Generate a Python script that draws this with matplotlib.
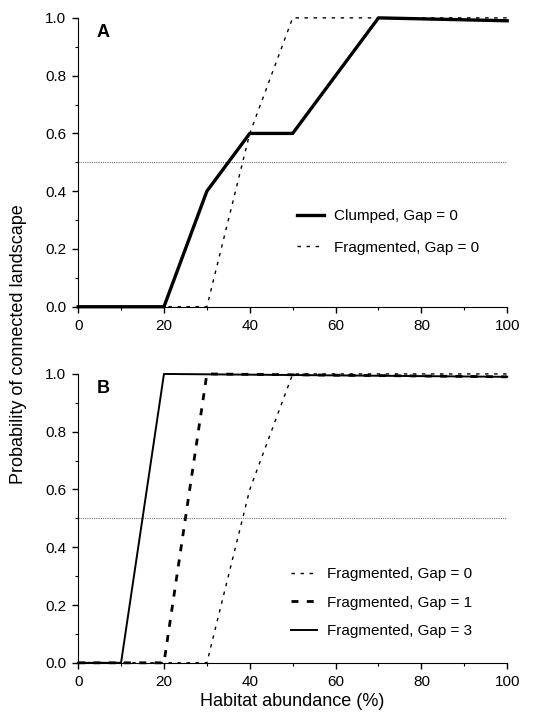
import matplotlib
matplotlib.use("Agg")
import matplotlib.pyplot as plt
from matplotlib.ticker import MultipleLocator

plt.rcParams["font.family"] = ["Liberation Sans", "DejaVu Sans"]

# Panel A
clumped_x = [0, 20, 30, 40, 50, 70, 100]
clumped_y = [0, 0, 0.4, 0.6, 0.6, 1.0, 0.99]
frag0_x = [0, 30, 40, 50, 100]
frag0_y = [0, 0, 0.6, 1.0, 1.0]

# Panel B
frag1_x = [0, 20, 30, 100]
frag1_y = [0, 0, 1.0, 0.99]
frag3_x = [0, 10, 20, 100]
frag3_y = [0, 0, 1.0, 0.99]

threshold = 0.5

fig = plt.figure(figsize=(5.39, 7.15), dpi=100)
axA = fig.add_axes([0.145, 0.571, 0.796, 0.404])
axB = fig.add_axes([0.145, 0.073, 0.796, 0.404])


def style_axes(ax):
    ax.set_xlim(0, 100)
    ax.set_ylim(0, 1.0)
    ax.spines["top"].set_visible(False)
    ax.spines["right"].set_visible(False)
    ax.xaxis.set_major_locator(MultipleLocator(20))
    ax.xaxis.set_minor_locator(MultipleLocator(10))
    ax.yaxis.set_major_locator(MultipleLocator(0.2))
    ax.yaxis.set_minor_locator(MultipleLocator(0.1))
    ax.set_yticklabels([f"{v:.1f}" for v in ax.get_yticks()])
    ax.tick_params(which="major", direction="out", length=4.5, width=1,
                   labelsize=11, pad=4)
    ax.tick_params(which="minor", direction="out", length=2.5, width=0.8)
    ax.axhline(threshold, color="0.45", lw=0.8, ls=(0, (1, 1)))


# Panel A
style_axes(axA)
axA.plot(clumped_x, clumped_y, color="black", lw=2.4, clip_on=False,
         label="Clumped, Gap = 0")
axA.plot(frag0_x, frag0_y, color="black", lw=1.0, ls=(0, (2.5, 4)), clip_on=False,
         label="Fragmented, Gap = 0")
axA.text(0.044, 0.948, "A", transform=axA.transAxes, fontsize=13,
         fontweight="bold", va="center", ha="left")
axA.legend(loc="upper left", bbox_to_anchor=(0.478, 0.385), frameon=False,
           fontsize=11, handlelength=1.75, labelspacing=1.15, handletextpad=0.7)

# Panel B
style_axes(axB)
axB.plot(frag0_x, frag0_y, color="black", lw=1.0, ls=(0, (2.5, 4)), clip_on=False,
         label="Fragmented, Gap = 0")
axB.plot(frag1_x, frag1_y, color="black", lw=2.0, ls=(0, (2.5, 3)), clip_on=False,
         label="Fragmented, Gap = 1")
axB.plot(frag3_x, frag3_y, color="black", lw=1.4, clip_on=False,
         label="Fragmented, Gap = 3")
axB.text(0.044, 0.948, "B", transform=axB.transAxes, fontsize=13,
         fontweight="bold", va="center", ha="left")
axB.legend(loc="upper left", bbox_to_anchor=(0.465, 0.379), frameon=False,
           fontsize=11, handlelength=1.65, labelspacing=0.96, handletextpad=0.7)
axB.set_xlabel("Habitat abundance (%)", fontsize=13, labelpad=3)

fig.text(0.035, 0.519, "Probability of connected landscape", rotation=90,
         ha="center", va="center", fontsize=13)

fig.savefig("out.png", dpi=100)
